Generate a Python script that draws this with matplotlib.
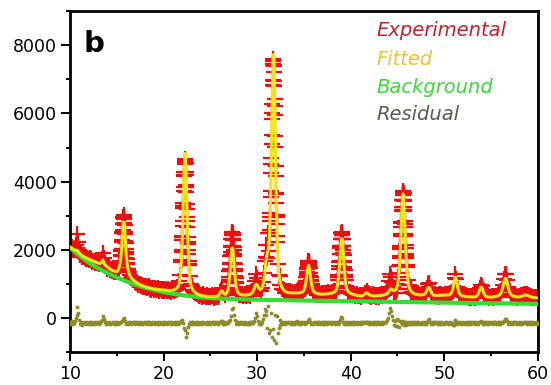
import numpy as np
import matplotlib
matplotlib.use("Agg")
import matplotlib.pyplot as plt
from matplotlib.ticker import MultipleLocator

# 2-theta grid, 0.1 deg steps from 10 to 60
two_theta = np.linspace(10, 60, 501)

# calculated profile, one row per degree (x.0 ... x.9)
fitted = [
    2085, 2064, 2043, 2023, 2009, 1995, 1987, 1988, 1981, 1942,
    1900, 1872, 1850, 1830, 1812, 1795, 1780, 1765, 1750, 1738,
    1728, 1715, 1703, 1690, 1678, 1666, 1655, 1644, 1633, 1622,
    1612, 1603, 1598, 1605, 1650, 1710, 1640, 1575, 1540, 1510,
    1490, 1470, 1450, 1432, 1415, 1400, 1388, 1378, 1370, 1362,
    1355, 1386, 1433, 1527, 1676, 1945, 2434, 2813, 2802, 2401,
    1890, 1600, 1430, 1316, 1249, 1198, 1158, 1128, 1105, 1085,
    1060, 1040, 1022, 1005, 990, 976, 963, 951, 940, 930,
    920, 911, 903, 895, 888, 881, 875, 869, 864, 859,
    854, 849, 845, 841, 837, 833, 830, 827, 824, 821,
    818, 815, 812, 808, 807, 806, 805, 805, 808, 810,
    815, 822, 834, 850, 869, 902, 951, 1049, 1244, 1630,
    2306, 3282, 4328, 4830, 4320, 3266, 2282, 1598, 1204, 1000,
    893, 835, 793, 765, 740, 719, 703, 689, 678, 667,
    660, 654, 648, 643, 638, 635, 632, 630, 628, 627,
    627, 627, 627, 626, 626, 625, 630, 633, 644, 667,
    715, 767, 796, 776, 733, 702, 694, 710, 758, 847,
    1040, 1340, 1730, 2045, 2045, 1730, 1345, 1045, 852, 773,
    729, 706, 692, 684, 678, 674, 672, 671, 672, 673,
    681, 686, 692, 701, 718, 748, 798, 869, 947, 990,
    976, 916, 863, 839, 841, 870, 943, 1071, 1271, 1526,
    1780, 1910, 2003, 2267, 3049, 4395, 6228, 7722, 7708, 6176,
    4281, 2827, 1881, 1406, 1143, 1012, 928, 875, 830, 799,
    778, 763, 752, 745, 740, 737, 735, 734, 734, 734,
    734, 734, 732, 733, 733, 736, 739, 744, 753, 773,
    811, 890, 1029, 1228, 1442, 1545, 1440, 1224, 1023, 882,
    801, 760, 737, 725, 717, 711, 705, 701, 697, 696,
    700, 701, 702, 704, 705, 707, 711, 714, 717, 724,
    729, 738, 750, 768, 798, 860, 970, 1190, 1530, 1972,
    2321, 2320, 1962, 1520, 1180, 959, 849, 786, 756, 737,
    721, 709, 698, 688, 680, 672, 665, 659, 654, 650,
    646, 644, 645, 655, 672, 698, 726, 741, 728, 700,
    677, 662, 653, 648, 646, 645, 646, 647, 649, 652,
    652, 655, 658, 661, 665, 670, 677, 686, 698, 716,
    741, 783, 827, 854, 845, 822, 804, 804, 823, 866,
    958, 1135, 1450, 1960, 2650, 3310, 3640, 3310, 2650, 1960,
    1450, 1135, 953, 857, 805, 770, 745, 726, 710, 700,
    694, 688, 683, 678, 675, 674, 677, 679, 686, 702,
    731, 779, 842, 893, 891, 836, 769, 717, 683, 664,
    660, 660, 661, 662, 663, 664, 665, 666, 668, 670,
    671, 671, 671, 672, 674, 678, 687, 708, 750, 832,
    965, 1114, 1196, 1110, 957, 820, 734, 688, 663, 650,
    642, 636, 631, 627, 623, 623, 621, 619, 617, 616,
    615, 615, 618, 622, 632, 651, 690, 751, 831, 895,
    896, 831, 751, 689, 649, 630, 618, 614, 610, 609,
    612, 614, 617, 620, 624, 628, 635, 643, 655, 674,
    700, 750, 828, 940, 1069, 1159, 1159, 1069, 940, 828,
    748, 697, 668, 650, 638, 631, 624, 620, 617, 614,
    618, 623, 630, 639, 650, 661, 669, 672, 669, 661,
    648, 635, 624, 615, 608, 603, 598, 594, 592, 590,
    588,
]

# observed minus calculated, same grid
residual = [
    35, -20, 48, -35, 10, 60, 140, 250, 480, 300,
    90, -30, 25, -45, 15, 38, -12, -40, 22, 5,
    -28, 44, -15, 30, -38, 8, 26, -22, 41, -6,
    18, -33, 12, 47, 80, 200, 120, 30, -18, 24,
    -40, 9, 33, -26, 14, -9, 37, -31, 20, -14,
    28, -22, 5, 36, -10, 30, 60, 120, 140, 50,
    -20, 15, -35, 28, 6, -24, 39, -12, 17, -37,
    25, -8, 42, -29, 11, 33, -19, 4, -36, 21,
    -11, 38, -27, 16, 45, -23, 7, -40, 29, 13,
    -30, 20, 3, -18, 35, -34, 24, 10, -26, 41,
    -7, -32, 27, 14, -21, 36, -4, 19, -38, 23,
    8, -25, 34, -16, 29, -39, 12, 45, 20, 60,
    80, 0, -150, -200, -420, -300, -120, -30, 20, -15,
    32, -40, 18, 5, -22, 37, -14, 26, -31, 9,
    21, -36, 40, -9, 15, -27, 33, -18, 6, 28,
    -23, 12, 45, 30, -30, 19, -8, 35, -20, 14,
    40, 60, 70, 45, -15, 22, -33, 8, 30, -12,
    60, 90, 200, 420, 450, 250, 80, -20, 35, -10,
    25, -38, 17, -9, 34, -24, 11, 39, -30, 6,
    -15, 28, -35, 20, 8, 40, -5, 60, 150, 300,
    200, 60, -20, 35, -40, 20, 120, 250, 400, 250,
    350, -150, 500, -300, -200, 300, -400, -170, -500, 250,
    -600, 200, -300, -150, 80, -60, 40, -25, 30, 12,
    -34, 22, -8, 37, 15, 40, -19, 28, -36, 10,
    20, -29, 35, 50, 12, -22, 30, -15, 41, -7,
    26, -33, 14, 45, 60, 110, 80, 20, -30, 15,
    -21, 38, -10, 24, -37, 16, 33, -26, 9, 42,
    -14, 27, -39, 11, 30, -17, 36, -5, 22, -31,
    18, -12, 40, -28, 7, 34, -20, 25, -10, 80,
    180, 150, 40, -35, 20, -18, 31, -27, 13, 36,
    -24, 9, 43, -16, 28, -33, 15, 38, -21, 4,
    31, -37, 19, 25, -11, 35, 20, 40, -8, 27,
    -19, 33, -28, 10, 42, -15, 24, -34, 16, 29,
    -36, 7, 30, -23, 14, 39, -12, 26, 30, 80,
    150, 300, 450, 350, 200, 100, -60, 50, -80, 120,
    -100, 80, -120, 60, 30, -40, 60, -50, 30, -70,
    40, -30, 22, -18, 35, -25, 12, 41, -14, 20,
    -32, 16, 38, -20, 8, -37, 27, 13, -24, 34,
    10, -28, 45, 100, 120, 30, -15, 26, -33, 18,
    37, -11, 21, -35, 29, 6, -26, 40, -17, 12,
    -29, 33, -8, 24, -39, 15, 31, -20, 9, -50,
    -60, 60, 90, 20, -40, 28, -12, 35, -27, 14,
    22, -34, 11, 39, -16, 27, -31, 8, 36, -22,
    17, -9, 30, -38, 21, 13, -25, 34, 40, 60,
    40, -20, 26, -32, 10, 37, -15, 23, -36, 19,
    -12, 41, -27, 16, 30, -21, 9, -34, 25, 38,
    -18, 28, -5, 32, 60, 120, 130, 50, -25, 15,
    36, -30, 12, 24, -38, 20, -10, 33, -22, 7,
    29, -16, 39, -25, 14, 40, 35, -12, 22, -33,
    11, 30, -27, 18, -35, 26, 5, -20, 34, -14,
    10,
]

# fine scans (0.025 deg steps, +-0.4 deg) across the strong reflections
scan_centres = [15.75, 22.3, 27.35, 31.75, 35.5, 39.05, 45.6]
scan_counts = [
    [1533, 1513, 1635, 1656, 1818, 1841, 2007, 2032, 2235, 2295, 2529,
     2569, 2770, 2768, 2952, 2915, 3011, 2920, 2951, 2781, 2737, 2520,
     2464, 2254, 2209, 2010, 1939, 1758, 1719, 1581, 1574, 1446, 1440],
    [1629, 1692, 1924, 2003, 2292, 2390, 2707, 2847, 3229, 3368, 3737,
     3845, 4203, 4280, 4562, 4549, 4660, 4517, 4537, 4282, 4193, 3843,
     3702, 3350, 3199, 2845, 2672, 2362, 2242, 1981, 1879, 1664, 1579],
    [1048, 1052, 1196, 1208, 1369, 1390, 1590, 1616, 1828, 1853, 2068,
     2098, 2318, 2313, 2477, 2435, 2520, 2425, 2467, 2303, 2298, 2108,
     2078, 1873, 1818, 1616, 1570, 1400, 1369, 1218, 1186, 1052, 1038],
    [2507, 2576, 2962, 3091, 3549, 3724, 4259, 4506, 5107, 5372, 6009,
     6268, 6842, 6992, 7427, 7457, 7589, 7431, 7406, 6965, 6798, 6226,
     5950, 5344, 5028, 4455, 4163, 3642, 3385, 2953, 2745, 2396, 2231],
    [940, 913, 1020, 991, 1097, 1078, 1214, 1203, 1334, 1317, 1451,
     1441, 1577, 1555, 1662, 1606, 1674, 1616, 1652, 1545, 1567, 1451,
     1461, 1327, 1324, 1193, 1204, 1088, 1107, 1001, 1010, 913, 930],
    [1114, 1116, 1257, 1256, 1424, 1441, 1637, 1659, 1866, 1887, 2097,
     2123, 2329, 2320, 2492, 2447, 2522, 2437, 2482, 2320, 2319, 2123,
     2107, 1897, 1856, 1659, 1627, 1451, 1414, 1266, 1247, 1116, 1104],
    [1525, 1558, 1773, 1808, 2071, 2120, 2401, 2459, 2772, 2823, 3134,
     3165, 3448, 3456, 3677, 3629, 3720, 3619, 3667, 3456, 3438, 3175,
     3124, 2833, 2752, 2469, 2391, 2130, 2051, 1818, 1763, 1568, 1515],
]
scan_step = 0.025

# refined background points
bg_angle = [10, 11, 12, 13, 14, 15, 16, 17, 18, 19, 20, 21, 22, 23, 24,
            25, 26, 27, 28, 30, 32, 35, 40, 45, 50, 55, 60]
bg_counts = [2060, 1830, 1630, 1460, 1320, 1190, 1075, 975, 890, 820, 760,
             710, 670, 635, 605, 585, 570, 558, 548, 535, 525, 510, 490,
             470, 450, 430, 415]

residual_shift = -150

legend_labels = ["Experimental", "Fitted", "Background", "Residual"]
legend_colors = ["#C81E2D", "#E6C33A", "#3AD83A", "#5A5A50"]

fitted = np.array(fitted)
residual = np.array(residual)
observed = fitted + residual

fine_x = []
fine_y = []
for c, counts in zip(scan_centres, scan_counts):
    half = (len(counts) - 1) // 2
    fine_x.extend(c + scan_step * np.arange(-half, half + 1))
    fine_y.extend(counts)

exp_x = np.concatenate([two_theta, fine_x])
exp_y = np.concatenate([observed, fine_y])

fig = plt.figure(figsize=(5.51, 3.85), dpi=100)
ax = fig.add_axes([0.127, 0.0857, 0.849, 0.885])

ax.plot(exp_x, exp_y, "+", color="#E81010", ms=11, mew=1.6, zorder=2)
ax.plot(bg_angle, bg_counts, color="#33DD33", lw=3, zorder=3)
ax.plot(two_theta, fitted, color="#F2E61A", lw=2.2, zorder=4)
ax.plot(two_theta, residual + residual_shift, ".", color="#8C8C2A",
        ms=3.5, zorder=3)

ax.set_xlim(10, 60)
ax.set_ylim(-1000, 9000)
ax.xaxis.set_major_locator(MultipleLocator(10))
ax.xaxis.set_minor_locator(MultipleLocator(5))
ax.yaxis.set_major_locator(MultipleLocator(2000))
ax.yaxis.set_minor_locator(MultipleLocator(1000))
ax.set_yticks([0, 2000, 4000, 6000, 8000])
ax.tick_params(which="major", length=6.5, width=1.4, labelsize=12.5, pad=3)
ax.tick_params(which="minor", length=3, width=1.4)
for side in ax.spines.values():
    side.set_linewidth(2)

ax.text(0.028, 0.88, "b", transform=ax.transAxes, fontsize=21,
        fontweight="bold", va="baseline")

ys = [0.927, 0.842, 0.760, 0.680]
for label, col, y in zip(legend_labels, legend_colors, ys):
    ax.text(0.656, y, label, transform=ax.transAxes, color=col,
            fontsize=14, fontstyle="italic", va="baseline")

fig.savefig("out.png", dpi=100)
